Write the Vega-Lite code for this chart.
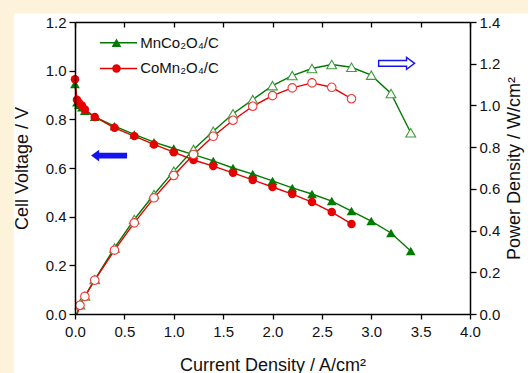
{
  "$schema": "https://vega.github.io/schema/vega-lite/v6.json",
  "width": 395,
  "height": 292,
  "autosize": {"type": "none"},
  "padding": {"left": 75, "top": 22, "right": 58, "bottom": 59},
  "background": "#FCF3DA",
  "config": {
    "view": {"stroke": null},
    "font": "Liberation Sans",
    "axis": {
      "grid": false,
      "domainColor": "black",
      "domainWidth": 1.5,
      "tickColor": "black",
      "tickWidth": 1.3,
      "labelFont": "Liberation Sans",
      "labelFontSize": 15,
      "labelColor": "#111111",
      "titleFont": "Liberation Sans",
      "titleFontSize": 18,
      "titleFontWeight": "normal",
      "titleColor": "#111111"
    }
  },
  "datasets": {
    "bg": [{"i": -0.62, "i2": 4.6, "v": -0.3, "v2": 1.235}],
    "volt": [
      {"s": "A", "i": 0, "v": 0.945}, {"s": "A", "i": 0.02, "v": 0.87}, {"s": "A", "i": 0.04, "v": 0.86}, {"s": "A", "i": 0.07, "v": 0.85},
      {"s": "A", "i": 0.1, "v": 0.835}, {"s": "A", "i": 0.2, "v": 0.81}, {"s": "A", "i": 0.4, "v": 0.772}, {"s": "A", "i": 0.6, "v": 0.738},
      {"s": "A", "i": 0.8, "v": 0.706}, {"s": "A", "i": 1.0, "v": 0.68}, {"s": "A", "i": 1.2, "v": 0.655}, {"s": "A", "i": 1.4, "v": 0.629},
      {"s": "A", "i": 1.6, "v": 0.6}, {"s": "A", "i": 1.8, "v": 0.575}, {"s": "A", "i": 2.0, "v": 0.547}, {"s": "A", "i": 2.2, "v": 0.518},
      {"s": "A", "i": 2.4, "v": 0.493}, {"s": "A", "i": 2.6, "v": 0.464}, {"s": "A", "i": 2.8, "v": 0.423}, {"s": "A", "i": 3.0, "v": 0.382},
      {"s": "A", "i": 3.2, "v": 0.333}, {"s": "A", "i": 3.4, "v": 0.259},
      {"s": "B", "i": 0, "v": 0.965}, {"s": "B", "i": 0.02, "v": 0.88}, {"s": "B", "i": 0.04, "v": 0.868}, {"s": "B", "i": 0.07, "v": 0.857},
      {"s": "B", "i": 0.1, "v": 0.84}, {"s": "B", "i": 0.2, "v": 0.81}, {"s": "B", "i": 0.4, "v": 0.765}, {"s": "B", "i": 0.6, "v": 0.731},
      {"s": "B", "i": 0.8, "v": 0.697}, {"s": "B", "i": 1.0, "v": 0.665}, {"s": "B", "i": 1.2, "v": 0.633}, {"s": "B", "i": 1.4, "v": 0.608},
      {"s": "B", "i": 1.6, "v": 0.58}, {"s": "B", "i": 1.8, "v": 0.551}, {"s": "B", "i": 2.0, "v": 0.522}, {"s": "B", "i": 2.2, "v": 0.493},
      {"s": "B", "i": 2.4, "v": 0.46}, {"s": "B", "i": 2.6, "v": 0.419}, {"s": "B", "i": 2.8, "v": 0.37}
    ],
    "power": [
      {"s": "A", "i": 0.02, "p": 0.0, "m": 0}, {"s": "A", "i": 0.05, "p": 0.044, "m": 1}, {"s": "A", "i": 0.1, "p": 0.086, "m": 1},
      {"s": "A", "i": 0.2, "p": 0.165, "m": 1}, {"s": "A", "i": 0.4, "p": 0.317, "m": 1}, {"s": "A", "i": 0.6, "p": 0.453, "m": 1},
      {"s": "A", "i": 0.8, "p": 0.573, "m": 1}, {"s": "A", "i": 1.0, "p": 0.685, "m": 1}, {"s": "A", "i": 1.2, "p": 0.789, "m": 1},
      {"s": "A", "i": 1.4, "p": 0.876, "m": 1}, {"s": "A", "i": 1.6, "p": 0.96, "m": 1}, {"s": "A", "i": 1.8, "p": 1.028, "m": 1},
      {"s": "A", "i": 2.0, "p": 1.095, "m": 1}, {"s": "A", "i": 2.2, "p": 1.143, "m": 1}, {"s": "A", "i": 2.4, "p": 1.177, "m": 1},
      {"s": "A", "i": 2.6, "p": 1.196, "m": 1}, {"s": "A", "i": 2.8, "p": 1.183, "m": 1}, {"s": "A", "i": 3.0, "p": 1.145, "m": 1},
      {"s": "A", "i": 3.2, "p": 1.057, "m": 1}, {"s": "A", "i": 3.4, "p": 0.869, "m": 1},
      {"s": "B", "i": 0.02, "p": 0.0, "m": 0}, {"s": "B", "i": 0.05, "p": 0.042, "m": 1}, {"s": "B", "i": 0.1, "p": 0.084, "m": 1},
      {"s": "B", "i": 0.2, "p": 0.162, "m": 1}, {"s": "B", "i": 0.4, "p": 0.306, "m": 1}, {"s": "B", "i": 0.6, "p": 0.437, "m": 1},
      {"s": "B", "i": 0.8, "p": 0.557, "m": 1}, {"s": "B", "i": 1.0, "p": 0.664, "m": 1}, {"s": "B", "i": 1.2, "p": 0.765, "m": 1},
      {"s": "B", "i": 1.4, "p": 0.852, "m": 1}, {"s": "B", "i": 1.6, "p": 0.929, "m": 1}, {"s": "B", "i": 1.8, "p": 0.996, "m": 1},
      {"s": "B", "i": 2.0, "p": 1.047, "m": 1}, {"s": "B", "i": 2.2, "p": 1.084, "m": 1}, {"s": "B", "i": 2.4, "p": 1.108, "m": 1},
      {"s": "B", "i": 2.6, "p": 1.087, "m": 1}, {"s": "B", "i": 2.8, "p": 1.032, "m": 1}
    ],
    "leg": [
      {"s": "A", "i": 0.253, "i2": 0.628, "im": 0.42, "it": 0.66, "v": 1.115, "label": "MnCo₂O₄/C"},
      {"s": "B", "i": 0.253, "i2": 0.628, "im": 0.42, "it": 0.66, "v": 1.009, "label": "CoMn₂O₄/C"}
    ],
    "arrows": [
      {"i": 0.345, "v": 0.651, "d": "L"},
      {"i": 3.257, "v": 1.03, "d": "R"}
    ]
  },
  "layer": [
    {
      "layer": [
        {
          "data": {"name": "bg"},
          "mark": {"type": "rect", "fill": "white", "clip": false},
          "encoding": {
            "x": {"field": "i", "type": "quantitative", "title": "Current Density / A/cm²",
                  "scale": {"domain": [0, 4], "nice": false, "zero": false},
                  "axis": {"orient": "bottom", "zindex": 1,
                           "values": [0, 0.25, 0.5, 0.75, 1, 1.25, 1.5, 1.75, 2, 2.25, 2.5, 2.75, 3, 3.25, 3.5, 3.75, 4],
                           "labelExpr": "datum.value % 0.5 == 0 ? format(datum.value, '.1f') : ''",
                           "tickSize": {"condition": {"test": "datum.value % 0.5 == 0", "value": 5}, "value": 3},
                           "labelPadding": 5, "titlePadding": 17, "labelFlush": false}},
            "x2": {"field": "i2"},
            "y": {"field": "v", "type": "quantitative", "title": "Cell Voltage / V",
                  "scale": {"domain": [0, 1.2], "nice": false, "zero": false},
                  "axis": {"orient": "left", "zindex": 1,
                           "values": [0, 0.1, 0.2, 0.3, 0.4, 0.5, 0.6, 0.7, 0.8, 0.9, 1.0, 1.1, 1.2],
                           "labelExpr": "round(datum.value * 10) % 2 == 0 ? format(datum.value, '.1f') : ''",
                           "tickSize": {"condition": {"test": "round(datum.value * 10) % 2 == 0", "value": 6}, "value": 3},
                           "labelPadding": 3, "titlePadding": 14, "labelFlush": false}},
            "y2": {"field": "v2"}
          }
        },
        {
          "data": {"name": "volt"},
          "mark": {"type": "line", "strokeWidth": 1.4},
          "encoding": {
            "x": {"field": "i", "type": "quantitative", "title": "Current Density / A/cm²"},
            "y": {"field": "v", "type": "quantitative", "title": "Cell Voltage / V"},
            "color": {"field": "s", "type": "nominal", "scale": {"domain": ["A", "B"], "range": ["#007A00", "#E60000"]}, "legend": null}
          }
        },
        {
          "data": {"name": "volt"},
          "mark": {"type": "point", "filled": true, "opacity": 1},
          "encoding": {
            "x": {"field": "i", "type": "quantitative", "title": "Current Density / A/cm²"},
            "y": {"field": "v", "type": "quantitative", "title": "Cell Voltage / V"},
            "color": {"field": "s", "type": "nominal", "legend": null},
            "shape": {"field": "s", "type": "nominal", "scale": {"domain": ["A", "B"], "range": ["triangle-up", "circle"]}, "legend": null},
            "size": {"field": "s", "type": "nominal", "scale": {"domain": ["A", "B"], "range": [95, 72]}, "legend": null}
          }
        },
        {
          "data": {"name": "leg"},
          "mark": {"type": "rule", "strokeWidth": 1.4},
          "encoding": {
            "x": {"field": "i", "type": "quantitative", "title": "Current Density / A/cm²"},
            "x2": {"field": "i2"},
            "y": {"field": "v", "type": "quantitative", "title": "Cell Voltage / V"},
            "color": {"field": "s", "type": "nominal", "legend": null}
          }
        },
        {
          "data": {"name": "leg"},
          "mark": {"type": "point", "filled": true, "opacity": 1},
          "encoding": {
            "x": {"field": "im", "type": "quantitative", "title": "Current Density / A/cm²"},
            "y": {"field": "v", "type": "quantitative", "title": "Cell Voltage / V"},
            "color": {"field": "s", "type": "nominal", "legend": null},
            "shape": {"field": "s", "type": "nominal", "legend": null},
            "size": {"field": "s", "type": "nominal", "legend": null}
          }
        },
        {
          "data": {"name": "leg"},
          "mark": {"type": "text", "align": "left", "baseline": "middle", "fontSize": 15, "font": "Liberation Sans", "color": "#111111"},
          "encoding": {
            "x": {"field": "it", "type": "quantitative", "title": "Current Density / A/cm²"},
            "y": {"field": "v", "type": "quantitative", "title": "Cell Voltage / V"},
            "text": {"field": "label"}
          }
        },
        {
          "data": {"name": "arrows"},
          "transform": [{"filter": "datum.d == 'L'"}],
          "mark": {"type": "point", "filled": true, "opacity": 1, "color": "#1414F0", "size": 1296,
                   "shape": "M-1,0L-0.55,-0.33L-0.55,-0.16L1,-0.16L1,0.16L-0.55,0.16L-0.55,0.33Z"},
          "encoding": {
            "x": {"field": "i", "type": "quantitative", "title": "Current Density / A/cm²"},
            "y": {"field": "v", "type": "quantitative", "title": "Cell Voltage / V"}
          }
        },
        {
          "data": {"name": "arrows"},
          "transform": [{"filter": "datum.d == 'R'"}],
          "mark": {"type": "point", "filled": false, "opacity": 1, "fill": "white", "stroke": "#1414F0", "strokeWidth": 1.4, "size": 1296,
                   "shape": "M1,0L0.55,-0.33L0.55,-0.16L-1,-0.16L-1,0.16L0.55,0.16L0.55,0.33Z"},
          "encoding": {
            "x": {"field": "i", "type": "quantitative", "title": "Current Density / A/cm²"},
            "y": {"field": "v", "type": "quantitative", "title": "Cell Voltage / V"}
          }
        }
      ]
    },
    {
      "layer": [
        {
          "data": {"name": "power"},
          "mark": {"type": "line", "strokeWidth": 1.4},
          "encoding": {
            "x": {"field": "i", "type": "quantitative", "title": null,
                  "axis": {"orient": "top", "labels": false, "title": null, "zindex": 1,
                           "values": [0, 0.25, 0.5, 0.75, 1, 1.25, 1.5, 1.75, 2, 2.25, 2.5, 2.75, 3, 3.25, 3.5, 3.75, 4],
                           "tickSize": -5}},
            "y": {"field": "p", "type": "quantitative", "title": "Power Density / W/cm²",
                  "scale": {"domain": [0, 1.4], "nice": false, "zero": false},
                  "axis": {"orient": "right", "zindex": 1,
                           "values": [0, 0.1, 0.2, 0.3, 0.4, 0.5, 0.6, 0.7, 0.8, 0.9, 1.0, 1.1, 1.2, 1.3, 1.4],
                           "labelExpr": "round(datum.value * 10) % 2 == 0 ? format(datum.value, '.1f') : ''",
                           "tickSize": {"condition": {"test": "round(datum.value * 10) % 2 == 0", "value": 6}, "value": 3},
                           "labelPadding": 3, "titlePadding": 6, "titleAngle": 270, "titleBaseline": "top", "labelFlush": false}},
            "color": {"field": "s", "type": "nominal", "scale": {"domain": ["A", "B"], "range": ["#007A00", "#E60000"]}, "legend": null}
          }
        },
        {
          "data": {"name": "power"},
          "transform": [{"filter": "datum.m == 1"}],
          "mark": {"type": "point", "filled": false, "fill": "white", "opacity": 1, "strokeWidth": 1.1},
          "encoding": {
            "x": {"field": "i", "type": "quantitative", "title": null},
            "y": {"field": "p", "type": "quantitative", "title": "Power Density / W/cm²"},
            "stroke": {"field": "s", "type": "nominal", "scale": {"domain": ["A", "B"], "range": ["#3E9A3E", "#F03A3A"]}, "legend": null},
            "shape": {"field": "s", "type": "nominal", "scale": {"domain": ["A", "B"], "range": ["triangle-up", "circle"]}, "legend": null},
            "size": {"field": "s", "type": "nominal", "scale": {"domain": ["A", "B"], "range": [95, 72]}, "legend": null}
          }
        }
      ]
    }
  ],
  "resolve": {"scale": {"y": "independent"}, "axis": {"x": "independent", "y": "independent"}}
}
